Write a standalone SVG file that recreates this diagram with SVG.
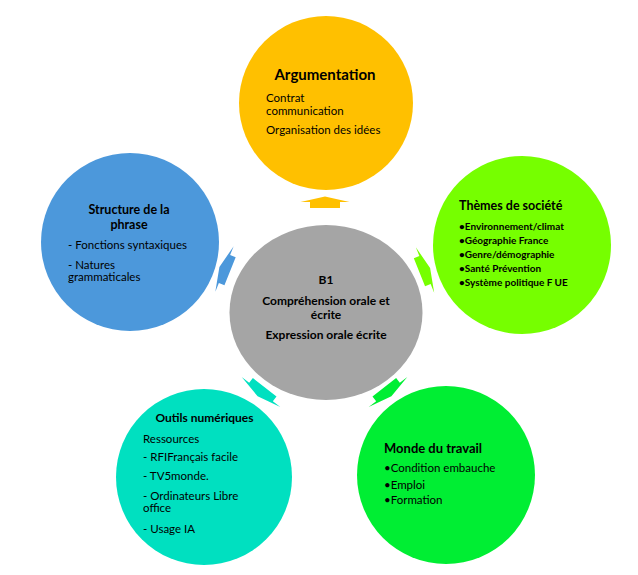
<svg xmlns="http://www.w3.org/2000/svg" width="638" height="575" viewBox="0 0 638 575">
<style>
text{font-family:Lato,"Open Sans","Liberation Sans",sans-serif;fill:#000;}
.t{font-weight:bold;}
.b{font-size:11.5px;}
.s{font-size:10px;font-weight:bold;}
.c{text-anchor:middle;}
</style>
<defs>
<polygon id="arr" points="-15,6 -15,0 -24.5,0 0,-5.5 24.5,0 15,0 15,6"/>
</defs>
<rect width="638" height="575" fill="#fff"/>
<g id="center">
<ellipse cx="326" cy="312.5" rx="96.5" ry="87.5" fill="#A5A5A5"/>
<text class="t c" x="326" y="284" font-size="12">B1</text>
<text class="t c" x="326" y="305" font-size="12">Compréhension orale et</text>
<text class="t c" x="326" y="318.5" font-size="12">écrite</text>
<text class="t c" x="326" y="338.5" font-size="12">Expression orale écrite</text>
</g>
<g id="argumentation">
<circle cx="326" cy="103" r="87" fill="#FFC000"/>
<text class="t c" x="325" y="80" font-size="15">Argumentation</text>
<text class="b" x="266" y="102">Contrat</text>
<text class="b" x="266" y="115">communication</text>
<text class="b" x="266" y="134">Organisation des idées</text>
</g>
<g id="themes">
<circle cx="522" cy="245" r="89" fill="#76FF00"/>
<text class="t" x="459" y="210" font-size="12.5">Thèmes de société</text>
<text class="s" x="459" y="229.5">•Environnement/climat</text>
<text class="s" x="459" y="243.5">•Géographie France</text>
<text class="s" x="459" y="257.5">•Genre/démographie</text>
<text class="s" x="459" y="272">•Santé Prévention</text>
<text class="s" x="459" y="286">•Système politique F UE</text>
</g>
<g id="travail">
<circle cx="446" cy="475" r="89" fill="#00EE33"/>
<text class="t" x="384" y="453" font-size="13">Monde du travail</text>
<text class="b" x="384" y="472">•Condition embauche</text>
<text class="b" x="384" y="489">•Emploi</text>
<text class="b" x="384" y="504">•Formation</text>
</g>
<g id="outils">
<circle cx="204" cy="477" r="88" fill="#00E0C0"/>
<text class="t c" x="204.5" y="422" font-size="12">Outils numériques</text>
<text class="b" x="143" y="442.5">Ressources</text>
<text class="b" x="143" y="461">- RFIFrançais facile</text>
<text class="b" x="143" y="480">- TV5monde.</text>
<text class="b" x="143" y="500">- Ordinateurs Libre</text>
<text class="b" x="143" y="512">office</text>
<text class="b" x="143" y="532.5">- Usage IA</text>
</g>
<g id="structure">
<circle cx="130" cy="242" r="89" fill="#4C98DB"/>
<text class="t c" x="129" y="213.5" font-size="12.5">Structure de la</text>
<text class="t c" x="129" y="228.5" font-size="12.5">phrase</text>
<text class="b" x="68" y="249">- Fonctions syntaxiques</text>
<text class="b" x="68" y="268.5">- Natures</text>
<text class="b" x="68" y="281">grammaticales</text>
</g>
<g id="connectors">
<use href="#arr" transform="translate(325,202)" fill="#FFC000"/>
<use href="#arr" transform="translate(425,270) rotate(68)" fill="#76FF00"/>
<use href="#arr" transform="translate(388,392) rotate(142)" fill="#00EE33"/>
<use href="#arr" transform="translate(261,392) rotate(-142)" fill="#00E0C0"/>
<use href="#arr" transform="translate(224.5,269) rotate(-68)" fill="#4C98DB"/>
</g>
</svg>
